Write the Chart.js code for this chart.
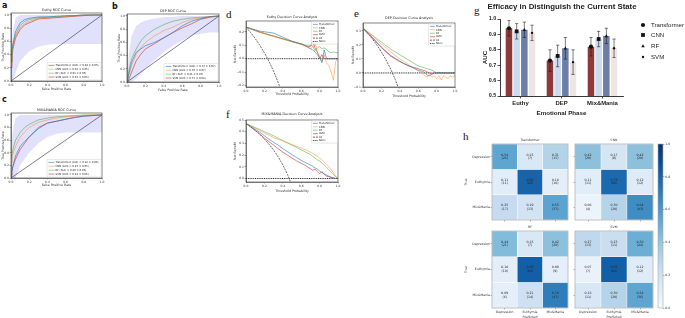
<!DOCTYPE html>
<html><head><meta charset="utf-8">
<script src="https://cdn.jsdelivr.net/npm/chart.js@4.4.1/dist/chart.umd.min.js"></script>
<style>
html,body{margin:0;padding:0;background:#fff;}
body{width:685px;height:318px;position:relative;overflow:hidden;}
canvas{position:absolute;}
.pl{position:absolute;line-height:1;color:#111;}
.ps{font:bold 8px 'DejaVu Sans',sans-serif;}
.pr{font:11px 'Liberation Serif',serif;}
</style></head><body>
<div class="pl ps" style="left:2px;top:1px">a</div>
<div class="pl ps" style="left:112px;top:2px">b</div>
<div class="pl ps" style="left:2px;top:95px">c</div>
<div class="pl pr" style="left:226px;top:8px">d</div>
<div class="pl pr" style="left:354px;top:7px">e</div>
<div class="pl pr" style="left:226px;top:108px">f</div>
<div class="pl pr" style="left:474px;top:4px">g</div>
<div class="pl pr" style="left:463px;top:130px">h</div>
<script>
// ================= DATA =================
const modelNames = ['Transformer','CNN','RF','SVM'];

// ROC curves (false positive rate grid, true positive rate per model)
const rocFpr = [0,0.01,0.02,0.05,0.1,0.15,0.2,0.3,0.4,0.5,0.6,0.7,0.8,0.9,1.0];
const diagX = [0,1];
const diagY = [0,1];

const euthyTprTransformer = [0.30,0.45,0.55,0.75,0.88,0.93,0.95,0.97,0.97,0.98,0.99,0.99,1,1,1];
const euthyTprCNN         = [0.25,0.40,0.50,0.68,0.80,0.87,0.90,0.95,0.96,0.97,0.98,0.99,1,1,1];
const euthyTprRF          = [0.28,0.42,0.55,0.70,0.84,0.90,0.93,0.96,0.97,0.97,0.98,0.99,1,1,1];
const euthyTprSVM         = [0.20,0.35,0.48,0.65,0.78,0.85,0.88,0.94,0.95,0.96,0.97,0.98,0.99,1,1];
const euthyBandHi         = [0.45,0.60,0.75,0.95,1,1,1,1,1,1,1,1,1,1,1];
const euthyBandLo         = [0,0,0,0.12,0.30,0.38,0.45,0.52,0.55,0.56,0.56,0.56,0.56,0.56,0.56];
const euthyLegend = ['Transformer (AUC = 0.94 \u00b1 0.05)','CNN (AUC = 0.92 \u00b1 0.05)','RF (AUC = 0.93 \u00b1 0.05)','SVM (AUC = 0.91 \u00b1 0.05)'];

const depTprTransformer = [0,0.05,0.12,0.30,0.45,0.50,0.55,0.60,0.67,0.75,0.85,0.92,0.96,0.99,1];
const depTprCNN         = [0,0.05,0.10,0.25,0.42,0.52,0.60,0.70,0.78,0.83,0.90,0.95,0.97,0.99,1];
const depTprRF          = [0,0.08,0.18,0.35,0.50,0.62,0.70,0.80,0.87,0.92,0.95,0.97,0.98,0.99,1];
const depTprSVM         = [0,0.02,0.04,0.15,0.32,0.42,0.50,0.58,0.67,0.75,0.82,0.88,0.95,0.98,1];
const depBandHi         = [0.10,0.25,0.40,0.70,0.85,0.90,0.93,0.96,0.98,0.99,1,1,1,1,1];
const depBandLo         = [0,0,0,0,0.05,0.12,0.20,0.33,0.45,0.55,0.63,0.70,0.73,0.75,0.75];
const depLegend = ['Transformer (AUC = 0.73 \u00b1 0.07)','CNN (AUC = 0.76 \u00b1 0.07)','RF (AUC = 0.81 \u00b1 0.07)','SVM (AUC = 0.72 \u00b1 0.08)'];

const mixTprTransformer = [0.05,0.10,0.18,0.35,0.50,0.58,0.65,0.78,0.87,0.90,0.93,0.96,0.98,0.99,1];
const mixTprCNN         = [0.20,0.30,0.38,0.50,0.65,0.73,0.80,0.88,0.92,0.95,0.97,0.98,0.99,1,1];
const mixTprRF          = [0.25,0.35,0.45,0.60,0.72,0.80,0.85,0.92,0.95,0.97,0.98,0.99,1,1,1];
const mixTprSVM         = [0.02,0.10,0.18,0.30,0.45,0.55,0.65,0.80,0.87,0.90,0.93,0.96,0.98,0.99,1];
const mixBandHi         = [0.40,0.60,0.75,0.95,1,1,1,1,1,1,1,1,1,1,1];
const mixBandLo         = [0,0,0,0,0.20,0.30,0.40,0.55,0.65,0.70,0.72,0.72,0.72,0.72,0.72];
const mixLegend = ['Transformer (AUC = 0.82 \u00b1 0.06)','CNN (AUC = 0.87 \u00b1 0.05)','RF (AUC = 0.89 \u00b1 0.05)','SVM (AUC = 0.81 \u00b1 0.06)'];

// Decision curves (threshold grid, net benefit per model)
const dcaT = [0,0.05,0.1,0.15,0.2,0.25,0.3,0.35,0.4,0.45,0.5,0.55,0.6,0.625,0.65,0.675,0.7,0.725,0.75,0.775,0.8,0.825,0.85,0.875,0.9,0.925,0.95,0.975,1];
const noneT = [0,1];
const noneNB = [0,0];

const euthyNbTransformer = [.235,.225,.215,.205,.200,.195,.190,.175,.160,.145,.130,.120,.110,.105,.095,.085,.075,.065,.050,.030,.010,-.030,.065,0,0,0,0,0,0];
const euthyNbCNN         = [.235,.222,.208,.195,.185,.175,.165,.155,.145,.135,.125,.115,.105,.100,.090,.085,.070,.090,.120,.050,.020,-.020,.030,-.030,-.050,-.100,-.160,-.020,0];
const euthyNbRF          = [.235,.222,.210,.198,.188,.178,.168,.158,.148,.138,.128,.118,.110,.105,.100,.100,.100,.095,.060,.080,.090,.075,.080,.070,.050,.045,.050,.045,.045];
const euthyNbSVM         = [.235,.222,.210,.198,.188,.178,.168,.158,.148,.138,.128,.118,.108,.100,.095,.090,.090,.130,.080,.050,0,.030,0,0,0,0,0,0,0];
const euthyAllT  = [0,0.05,0.1,0.15,0.2,0.25,0.3,0.35,0.4];
const euthyAllNB = [.235,.195,.150,.100,.044,-.020,-.093,-.177,-.275];

const depNbTransformer = [.320,.285,.255,.220,.185,.155,.125,.105,.085,.065,.050,.035,.020,.015,.010,0,-.015,-.020,-.005,0,0,0,0,0,0,0,0,0,0];
const depNbCNN         = [.320,.290,.265,.235,.205,.180,.150,.125,.100,.080,.055,.035,.015,.005,-.005,-.020,-.030,-.010,-.030,-.020,-.040,-.020,-.050,-.020,-.030,-.040,-.020,-.030,-.020];
const depNbRF          = [.320,.295,.270,.245,.220,.195,.170,.150,.130,.110,.090,.070,.050,.045,.040,.035,.030,.025,.020,.010,0,.005,0,0,0,0,0,0,0];
const depNbSVM         = [.320,.283,.250,.215,.180,.150,.120,.100,.080,.065,.050,.040,.030,.025,.020,.015,.005,0,-.010,0,0,0,0,0,0,0,0,0,0];
const depAllT  = [0,0.05,0.1,0.15,0.2,0.25,0.3,0.35,0.4];
const depAllNB = [.320,.284,.244,.200,.150,.093,.029,-.046,-.133];

const mixNbTransformer = [.470,.445,.420,.395,.365,.335,.310,.285,.255,.230,.205,.180,.155,.145,.135,.125,.115,.105,.090,.080,.065,.050,.040,.030,.020,.010,.005,0,0];
const mixNbCNN         = [.470,.450,.430,.410,.390,.370,.350,.335,.320,.305,.290,.275,.260,.250,.245,.235,.225,.215,.200,.190,.175,.160,.140,.120,.100,.075,.050,.020,0];
const mixNbRF          = [.470,.452,.435,.418,.400,.383,.365,.345,.325,.305,.285,.265,.245,.235,.225,.215,.205,.190,.175,.160,.150,.135,.115,.095,.075,.055,.035,.015,0];
const mixNbSVM         = [.470,.440,.410,.380,.345,.315,.285,.255,.225,.200,.175,.150,.130,.120,.110,.095,.085,.070,.080,.060,.040,.060,.035,.020,.015,.010,.005,0,0];
const mixAllT  = [0,0.05,0.1,0.15,0.2,0.25,0.3,0.35,0.4,0.45,0.5];
const mixAllNB = [.470,.442,.411,.377,.338,.293,.243,.185,.117,.036,-.060];

// Bar chart (g)
const gCategories = ['Euthy','DEP','Mix&Mania'];
const aucTransformer = [0.94,0.73,0.82];
const aucCNN         = [0.92,0.76,0.87];
const aucRF          = [0.93,0.81,0.89];
const aucSVM         = [0.91,0.72,0.81];
const errTransformer = [0.05,0.07,0.06];
const errCNN         = [0.05,0.07,0.05];
const errRF          = [0.05,0.07,0.05];
const errSVM         = [0.05,0.08,0.06];
const gYTicks = [0.5,0.6,0.7,0.8,0.9,1.0];

// Confusion matrices (h)
const cmClasses = ['Depression','Euthymia','Mix&Mania'];
const cmTransformer  = [[0.54,0.15,0.31],[0.11,0.80,0.10],[0.25,0.19,0.55]];
const cntTransformer = [[26,7,15],[11,82,10],[17,13,37]];
const cmCNN  = [[0.42,0.17,0.42],[0.11,0.78,0.12],[0.06,0.30,0.64]];
const cntCNN = [[20,8,20],[11,80,12],[4,20,43]];
const cmRF   = [[0.44,0.15,0.42],[0.10,0.82,0.09],[0.09,0.21,0.70]];
const cntRF  = [[21,7,20],[10,84,9],[6,14,47]];
const cmSVM  = [[0.27,0.23,0.50],[0.07,0.82,0.12],[0.16,0.30,0.54]];
const cntSVM = [[13,11,24],[7,84,12],[11,20,36]];
const cbarTicks = [0,0.2,0.4,0.6,0.8,1.0];

// ================= HELPERS =================
const FONT = "'DejaVu Sans'";
const lineColors = ['rgba(31,119,180,0.75)','rgba(255,127,14,0.6)','rgba(44,160,44,0.6)','rgba(214,39,40,0.75)'];
const bandColor = 'rgba(120,120,235,0.22)';

function mk(x,y,w,h){const c=document.createElement('canvas');c.width=w;c.height=h;c.style.left=x+'px';c.style.top=y+'px';c.style.width=w+'px';c.style.height=h+'px';document.body.appendChild(c);return c;}
function baseOpts(pad){return {responsive:false,maintainAspectRatio:false,animation:false,devicePixelRatio:1,layout:{padding:pad},events:[],plugins:{legend:{display:false},tooltip:{enabled:false},title:{display:false}}};}
function fmt1(v){const r=Math.round(v*10)/10;return (r<0?'\u2212':'')+Math.abs(r).toFixed(1);}
function pts(xs,ys){return xs.map((x,i)=>({x:x,y:ys[i]}));}

function mplScale(pos,min,max,step,title,size,tpad){
  const horiz = pos==='bottom';
  return {type:'linear',position:pos,min:min,max:max,
    afterFit:s=>{if(horiz)s.height=size;else s.width=size;},
    ticks:{stepSize:step,includeBounds:false,autoSkip:false,maxRotation:0,font:{size:3,family:FONT},color:'#333',padding:0.6,callback:fmt1},
    grid:{drawOnChartArea:false,drawTicks:true,tickLength:1.4,color:'#444',lineWidth:0.5},
    border:{display:true,color:'#444',width:0.6},
    title:{display:true,text:title,font:{size:3.2,family:FONT},color:'#333',padding:horiz?{top:0,bottom:tpad}:{top:tpad,bottom:0}}
  };
}

function drawLegend(ctx,a,items,o){
  const h = items.length*o.lh + o.pad*2;
  const x0 = a.right - o.mr - o.w;
  const y0 = o.corner==='br' ? a.bottom - o.mb - h : a.top + o.mt;
  ctx.save();
  ctx.fillStyle='rgba(255,255,255,0.85)';ctx.strokeStyle='#cfcfcf';ctx.lineWidth=0.5;
  ctx.beginPath();
  if(ctx.roundRect)ctx.roundRect(x0,y0,o.w,h,1);else ctx.rect(x0,y0,o.w,h);
  ctx.fill();ctx.stroke();
  ctx.font=o.font+'px '+FONT;ctx.textAlign='left';ctx.textBaseline='middle';
  items.forEach((it,i)=>{
    const cy=y0+o.pad+o.lh*(i+0.5);
    ctx.strokeStyle=it.color;ctx.lineWidth=it.width;ctx.setLineDash(it.dash||[]);
    ctx.beginPath();ctx.moveTo(x0+1.5,cy);ctx.lineTo(x0+1.5+o.sample,cy);ctx.stroke();
    ctx.setLineDash([]);
    ctx.fillStyle='#222';ctx.fillText(it.label,x0+2.5+o.sample,cy+0.1);
  });
  ctx.restore();
}

function deco(cfg){
  return {id:'deco',afterDraw(chart){
    const ctx=chart.ctx,a=chart.chartArea;
    ctx.save();
    if(cfg.frame){ctx.strokeStyle=cfg.frame.color;ctx.lineWidth=cfg.frame.width;ctx.strokeRect(a.left,a.top,a.right-a.left,a.bottom-a.top);}
    if(cfg.title){ctx.font=cfg.title.font;ctx.fillStyle=cfg.title.color||'#222';ctx.textAlign='center';ctx.textBaseline='middle';
      const cx = cfg.title.cx!==undefined?cfg.title.cx:(a.left+a.right)/2;
      ctx.fillText(cfg.title.text,cx,a.top-cfg.title.gap);}
    ctx.restore();
    if(cfg.legend)drawLegend(ctx,a,cfg.legend.items,cfg.legend);
  }};
}

// ================= ROC =================
function rocChart(cx,cy,w,h,pad,title,titleGap,tprs,hi,lo,labels,tpadY,tpadX){
  const datasets = tprs.map((ys,i)=>({label:labels[i],data:pts(rocFpr,ys),borderColor:lineColors[i],borderWidth:0.8,pointRadius:0,fill:false,tension:0}));
  datasets.push({label:'chance',data:pts(diagX,diagY),borderColor:'#2b2b3b',borderWidth:0.6,pointRadius:0,fill:false});
  datasets.push({label:'band',data:pts(rocFpr,hi),borderWidth:0,borderColor:'rgba(0,0,0,0)',pointRadius:0,fill:'+1',backgroundColor:bandColor});
  datasets.push({label:'bandLo',data:pts(rocFpr,lo),borderWidth:0,borderColor:'rgba(0,0,0,0)',pointRadius:0,fill:false});
  const opts = baseOpts({left:0,top:pad.T,right:pad.R,bottom:0});
  opts.scales = {x:mplScale('bottom',0,1,0.2,'False Positive Rate',pad.B,tpadX), y:mplScale('left',0,1.03,0.2,'True Positive Rate',pad.L,tpadY)};
  const items = labels.map((l,i)=>({label:l,color:lineColors[i],width:0.8}));
  new Chart(mk(cx,cy,w,h),{type:'line',data:{datasets:datasets},options:opts,
    plugins:[deco({frame:{color:'#333',width:0.6},title:{text:title,font:'3.35px '+FONT,gap:titleGap},
      legend:{items:items,corner:'br',w:54,lh:3.9,pad:1,mr:1,mb:1,font:2.6,sample:6}})]});
}
rocChart(0,0,108,92,{L:11,T:13,R:6,B:11},'Euthy ROC Curve',3,[euthyTprTransformer,euthyTprCNN,euthyTprRF,euthyTprSVM],euthyBandHi,euthyBandLo,euthyLegend,1.2,1.4);
rocChart(116,0,109,93,{L:11,T:14,R:6,B:11},'DEP ROC Curve',2.5,[depTprTransformer,depTprCNN,depTprRF,depTprSVM],depBandHi,depBandLo,depLegend,1.2,1.4);
rocChart(0,100,108,89,{L:11,T:13,R:6,B:11},'MIX&MANIA ROC Curve',3,[mixTprTransformer,mixTprCNN,mixTprRF,mixTprSVM],mixBandHi,mixBandLo,mixLegend,1.2,1.9);

// ================= DCA =================
function dcaChart(cx,cy,w,h,pad,title,titleGap,yMin,yMax,nbs,allT,allNB,tpadY,tpadX){
  const datasets = nbs.map((ys,i)=>({label:modelNames[i],data:pts(dcaT,ys),borderColor:lineColors[i],borderWidth:0.8,pointRadius:0,fill:false,tension:0}));
  datasets.push({label:'All',data:pts(allT,allNB),borderColor:'#444',borderWidth:0.8,borderDash:[2,1],pointRadius:0,fill:false});
  datasets.push({label:'None',data:pts(noneT,noneNB),borderColor:'#111',borderWidth:0.9,borderDash:[1,0.8],pointRadius:0,fill:false});
  const opts = baseOpts({left:0,top:pad.T,right:pad.R,bottom:0});
  opts.scales = {x:mplScale('bottom',0,1,0.2,'Threshold Probability',pad.B,tpadX), y:mplScale('left',yMin,yMax,0.1,'Net Benefit',pad.L,tpadY)};
  const items = modelNames.map((l,i)=>({label:l,color:lineColors[i],width:0.8}));
  items.push({label:'All',color:'#444',width:0.8,dash:[2,1]});
  items.push({label:'None',color:'#111',width:0.9,dash:[1,0.8]});
  new Chart(mk(cx,cy,w,h),{type:'line',data:{datasets:datasets},options:opts,
    plugins:[deco({frame:{color:'#333',width:0.6},title:{text:title,font:'3.35px '+FONT,gap:titleGap},
      legend:{items:items,corner:'tr',w:26,lh:3.45,pad:0.8,mr:0.6,mt:0.8,font:2.6,sample:5}})]});
}
dcaChart(232,10,111,89,{L:14,T:11,R:5,B:12},'Euthy Decision Curve Analysis',4,-0.21,0.28,[euthyNbTransformer,euthyNbCNN,euthyNbRF,euthyNbSVM],euthyAllT,euthyAllNB,1,2.6);
dcaChart(349,12,111,87,{L:14,T:11,R:5,B:12},'DEP Decision Curve Analysis',5,-0.1,0.356,[depNbTransformer,depNbCNN,depNbRF,depNbSVM],depAllT,depAllNB,2,1.3);
dcaChart(232,110,111,85,{L:14,T:10,R:5,B:13},'MIX&MANIA Decision Curve Analysis',6,-0.03,0.50,[mixNbTransformer,mixNbCNN,mixNbRF,mixNbSVM],mixAllT,mixAllNB,1,2.3);

// ================= BAR (g) =================
const gColors = ['#8c3a3a','#cddbf0','#6c7ea6','#efe6e3'];
const gAuc = [aucTransformer,aucCNN,aucRF,aucSVM];
const gErr = [errTransformer,errCNN,errRF,errSVM];
const GF = "'Liberation Sans'";
function drawMarker(ctx,kind,x,y){
  ctx.fillStyle='#111';ctx.beginPath();
  if(kind===0){ctx.arc(x,y,2.1,0,Math.PI*2);}
  else if(kind===1){ctx.rect(x-1.9,y-1.9,3.8,3.8);}
  else if(kind===2){ctx.moveTo(x,y-1.8);ctx.lineTo(x+1.7,y+1.2);ctx.lineTo(x-1.7,y+1.2);ctx.closePath();}
  else {ctx.arc(x,y,1.2,0,Math.PI*2);}
  ctx.fill();
}
const errPlugin = {id:'err',afterDatasetsDraw(chart){
  const ctx=chart.ctx,y=chart.scales.y;
  ctx.save();ctx.strokeStyle='#222';ctx.lineWidth=0.6;
  chart.data.datasets.forEach((ds,i)=>{
    chart.getDatasetMeta(i).data.forEach((bar,j)=>{
      const v=gAuc[i][j],e=gErr[i][j];
      const t=y.getPixelForValue(v+e),b=y.getPixelForValue(v-e);
      ctx.beginPath();ctx.moveTo(bar.x,t);ctx.lineTo(bar.x,b);
      ctx.moveTo(bar.x-1.6,t);ctx.lineTo(bar.x+1.6,t);ctx.moveTo(bar.x-1.6,b);ctx.lineTo(bar.x+1.6,b);ctx.stroke();
      drawMarker(ctx,i,bar.x,bar.y);
    });
  });
  // legend
  const lx=188, ly=[25,35,46,57];
  ctx.font='6.1px '+GF;ctx.textAlign='left';ctx.textBaseline='middle';
  modelNames.forEach((n,i)=>{drawMarker(ctx,i,lx,ly[i]);ctx.fillStyle='#222';ctx.fillText(n,lx+8,ly[i]);});
  ctx.restore();
}};
(function(){
  const opts = baseOpts({left:0,top:19,right:62,bottom:0});
  opts.scales = {
    x:{type:'category',afterFit:s=>{s.height=26;},
      ticks:{font:{size:5.9,family:GF,weight:'bold'},color:'#222',padding:1.2,maxRotation:0,autoSkip:false},
      grid:{drawOnChartArea:false,drawTicks:true,tickLength:2.5,color:'#222',lineWidth:0.8,offset:false},
      border:{display:true,color:'#222',width:0.9},
      title:{display:true,text:'Emotional Phase',font:{size:6.2,family:GF,weight:'bold'},color:'#222',padding:{top:0,bottom:4.8}}},
    y:{type:'linear',min:0.5,max:1.0,afterFit:s=>{s.width=45;},
      afterBuildTicks:s=>{s.ticks=gYTicks.map(v=>({value:v}));},
      ticks:{font:{size:5.4,family:GF,weight:'bold'},color:'#222',padding:1.2,callback:v=>v.toFixed(1)},
      grid:{drawOnChartArea:false,drawTicks:true,tickLength:2.5,color:'#222',lineWidth:0.8},
      border:{display:true,color:'#222',width:0.9},
      title:{display:true,text:'AUC',font:{size:6.2,family:GF,weight:'bold'},color:'#222',padding:{top:27,bottom:0}}}
  };
  new Chart(mk(455,0,230,122),{type:'bar',
    data:{labels:gCategories,datasets:gAuc.map((d,i)=>({label:modelNames[i],data:d,backgroundColor:gColors[i],barPercentage:0.85,categoryPercentage:0.75}))},
    options:opts,
    plugins:[errPlugin,deco({title:{text:'Efficacy in Distinguish the Current State',font:'bold 7.8px '+GF,gap:12,cx:107}})]});
})();

// ================= HEATMAPS (h) =================
const BLUES=[[247,251,255],[222,235,247],[198,219,239],[158,202,225],[107,174,214],[66,146,198],[33,113,181],[8,81,156],[8,48,107]];
function blues(v){const t=Math.max(0,Math.min(1,v))*8;const i=Math.min(7,Math.floor(t));const f=t-i;const c=BLUES[i].map((a,k)=>Math.round(a+(BLUES[i+1][k]-a)*f));return 'rgb('+c.join(',')+')';}
const HF = 3.2;
function heatmap(cx,cy,w,h,pad,title,cm,cnt,showY,showX){
  const rows=[0,1,2];
  const datasets = rows.map(r=>({data:cmClasses.map(()=>[r,r+1]),backgroundColor:cm[r].map(blues),borderColor:'rgba(255,255,255,0.9)',borderWidth:0.5,borderSkipped:false,grouped:false,barPercentage:1,categoryPercentage:1}));
  const opts = baseOpts({left:0,top:pad.T,right:pad.R,bottom:0});
  opts.scales = {
    x:{type:'category',labels:showX?['Depression',['Euthymia'],'Mix&Mania']:cmClasses,afterFit:s=>{s.height=pad.B;},
      ticks:{display:showX,font:{size:HF,family:FONT},color:'#333',padding:0.5,maxRotation:0,autoSkip:false},
      grid:{drawOnChartArea:false,drawTicks:true,tickLength:1.4,color:'#555',lineWidth:0.5,offset:false},
      border:{display:false},
      title:{display:showX,text:'Predicted',font:{size:HF,family:FONT},color:'#333',padding:{top:0,bottom:1.1}}},
    y:{type:'linear',min:0,max:3,reverse:true,afterFit:s=>{s.width=pad.L;},
      afterBuildTicks:s=>{s.ticks=rows.map(r=>({value:r+0.5}));},
      ticks:{display:showY,font:{size:HF,family:FONT},color:'#333',padding:0.6,callback:(v,i)=>cmClasses[i]},
      grid:{drawOnChartArea:false,drawTicks:true,tickLength:1.4,color:'#555',lineWidth:0.5},
      border:{display:false},
      title:{display:showY,text:'True',font:{size:HF,family:FONT},color:'#333',padding:{top:4.6,bottom:0}}}
  };
  const cellText = {id:'cells',afterDatasetsDraw(chart){
    const ctx=chart.ctx,x=chart.scales.x,y=chart.scales.y;
    ctx.save();ctx.font=HF+'px '+FONT;ctx.fillStyle='#262626';ctx.textAlign='center';ctx.textBaseline='middle';
    rows.forEach(r=>cmClasses.forEach((_,c)=>{
      const px=x.getPixelForValue(c),py=y.getPixelForValue(r+0.5);
      ctx.fillText(cm[r][c].toFixed(2),px,py-1.9);
      ctx.fillText('('+cnt[r][c]+')',px,py+1.6);
    }));
    ctx.restore();
  }};
  new Chart(mk(cx,cy,w,h),{type:'bar',data:{labels:cmClasses,datasets:datasets},options:opts,
    plugins:[cellText,deco({frame:{color:'#a8a8a8',width:0.7},title:{text:title,font:HF+'px '+FONT,gap:4,color:'#333'}})]});
}
heatmap(460,133,111,91,{L:32,T:11,R:3,B:4},'Transformer',cmTransformer,cntTransformer,true,false);
heatmap(570,133,86,91,{L:5,T:11,R:3,B:4},'CNN',cmCNN,cntCNN,false,false);
heatmap(460,220,111,100,{L:32,T:11,R:3,B:12},'RF',cmRF,cntRF,true,true);
heatmap(570,220,86,100,{L:5,T:11,R:3,B:12},'SVM',cmSVM,cntSVM,false,true);

// colorbar
(function(){
  const opts = baseOpts({left:3,top:6,right:0,bottom:6});
  opts.scales = {
    x:{display:false},
    y:{type:'linear',position:'right',min:0,max:1,afterFit:s=>{s.width=22;},
      afterBuildTicks:s=>{s.ticks=cbarTicks.map(v=>({value:v}));},
      ticks:{font:{size:HF,family:FONT},color:'#333',padding:0.8,callback:v=>v.toFixed(1)},
      grid:{drawOnChartArea:false,drawTicks:true,tickLength:1.4,color:'#555',lineWidth:0.5},
      border:{display:false}}
  };
  new Chart(mk(655,138,30,176),{type:'bar',
    data:{labels:['scale'],datasets:[{data:[[0,1]],barPercentage:1,categoryPercentage:1,borderWidth:0,
      backgroundColor:(c)=>{const a=c.chart.chartArea;if(!a)return '#888';const g=c.chart.ctx.createLinearGradient(0,a.bottom,0,a.top);BLUES.forEach((_,i)=>g.addColorStop(i/8,blues(i/8)));return g;}}]},
    options:opts,plugins:[deco({frame:{color:'#a8a8a8',width:0.6}})]});
})();
</script>
</body></html>
